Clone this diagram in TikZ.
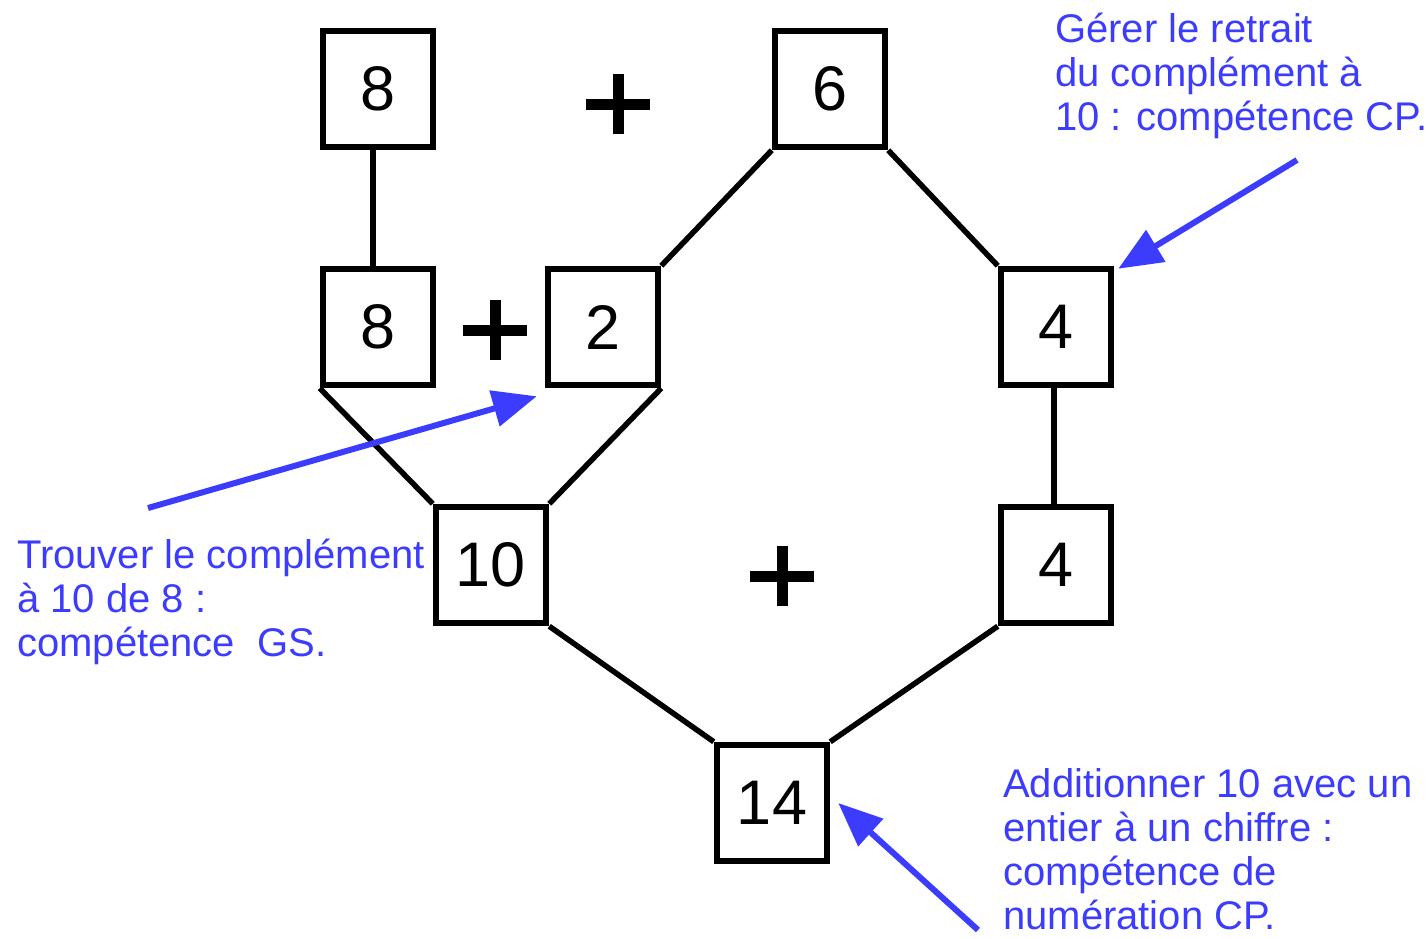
\documentclass[tikz,border=0pt]{standalone}
\usepackage{fontspec}
\setmainfont{Liberation Sans}
\usetikzlibrary{arrows.meta}
\definecolor{annblue}{RGB}{60,60,255}
\begin{document}
\begin{tikzpicture}[x=1pt,y=-1pt,
  numbox/.style={draw=black, line width=6.5pt, minimum width=110pt, minimum height=116pt,
    inner sep=0pt, font=\fontsize{63}{63}\selectfont},
  link/.style={draw=black, line width=5.5pt},
  plussign/.style={draw=black, line width=11pt},
  annarrow/.style={draw=annblue, line width=6pt, -{Triangle[length=44pt,width=36pt]}},
  anntext/.style={text=annblue, align=left, inner sep=0pt, anchor=base west,
    font=\fontsize{40}{44}\selectfont}]
\useasboundingbox (0,0) rectangle (1426,938);
% boxes
\node[numbox] (n8a) at (378,89) {8};
\node[numbox] (n6) at (830,89) {6};
\node[numbox] (n8b) at (378,327) {8};
\node[numbox] (n2) at (603,327) {2};
\node[numbox] (n4a) at (1056,327) {4};
\node[numbox] (n10) at (491,565) {10};
\node[numbox] (n4b) at (1056,565) {4};
\node[numbox] (n14) at (772,803) {14};
% connectors
\draw[link] ([xshift=-5pt]n8a.south) -- ([xshift=-5pt]n8b.north);
\draw[link] (n6.south west) -- (n2.north east);
\draw[link] (n6.south east) -- (n4a.north west);
\draw[link] (n8b.south west) -- (n10.north west);
\draw[link] (n2.south east) -- (n10.north east);
\draw[link] ([xshift=-2pt]n4a.south) -- ([xshift=-2pt]n4b.north);
\draw[link] (n10.south east) -- (n14.north west);
\draw[link] (n4b.south west) -- (n14.north east);
% plus signs
\coordinate (p1) at (618,104);
\coordinate (p2) at (495,330);
\coordinate (p3) at (782,576);
\foreach \p in {p1,p2,p3}{
  \draw[plussign] ([xshift=-32pt]\p) -- ([xshift=32pt]\p);
  \draw[plussign] ([yshift=-30pt]\p) -- ([yshift=30pt]\p);
}
% annotations (base anchor = last line's baseline)
\node[anntext] (t1) at (1055,130) {Gérer le retrait\\du complément à\\10 : compétence CP.};
\node[anntext] (t2) at (17,656) {Trouver le complément\\à 10 de 8 :\\compétence\ \ GS.};
\node[anntext] (t3) at (1003,929) {Additionner 10 avec un\\entier à un chiffre :\\compétence de\\numération CP.};
\coordinate (a1s) at (148,508);
\coordinate (a2s) at (1297,160);
\coordinate (a3s) at (978,930);
\draw[annarrow] (a1s) -- ([shift={(-8,8)}]n2.south west);
\draw[annarrow] (a2s) -- ([shift={(4,3)}]n4a.north east);
\draw[annarrow] (a3s) -- ([xshift=8pt]n14.east);
\end{tikzpicture}
\end{document}
